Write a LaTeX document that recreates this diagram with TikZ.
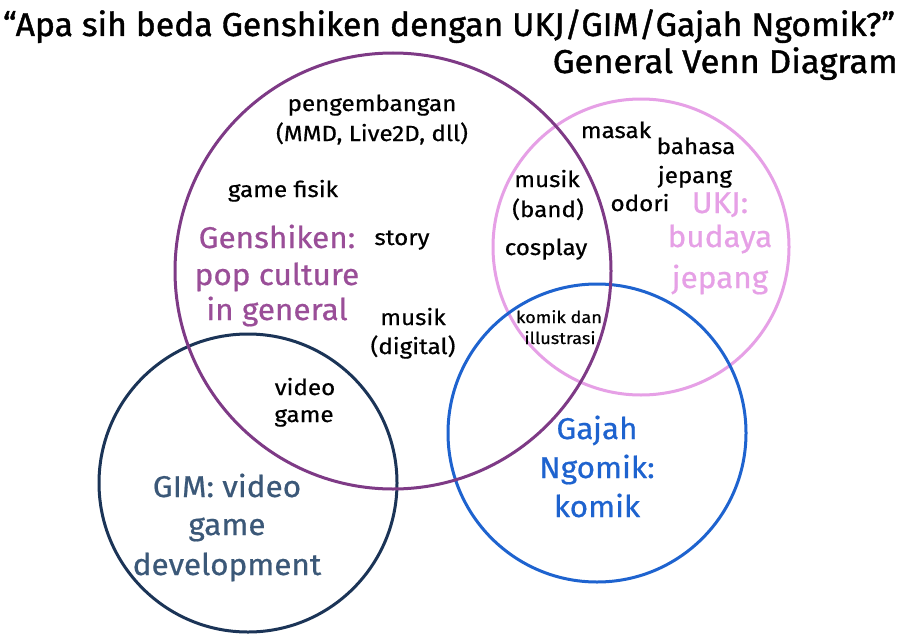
\documentclass[tikz,border=0pt]{standalone}
\usepackage{fontspec}
\setmainfont{Fira Sans}
\newfontfamily\medfont{Fira Sans}[FakeStretch=1.1, FakeBold=0.6]
\newfontfamily\bigfont{Fira Sans}[FakeStretch=1.05, FakeBold=0.6]
\newfontfamily\ttlfont{Fira Sans}[FakeBold=1.2]
\definecolor{gpurple}{HTML}{7E3A86}
\definecolor{gpurpletext}{HTML}{9A4E98}
\definecolor{ukjpink}{HTML}{E6A0E6}
\definecolor{gnblue}{HTML}{1E63CF}
\definecolor{gimnavy}{HTML}{1B3457}
\definecolor{gimtext}{HTML}{3B5878}
\begin{document}
\begin{tikzpicture}[x=1pt,y=-1pt,
  ring/.style={circle, line width=3pt, inner sep=0pt, outer sep=0pt},
  lbl/.style={font=\medfont\fontsize{22}{26}\selectfont, inner sep=0pt, anchor=base},
  sml/.style={font=\medfont\fontsize{16.5}{19}\selectfont, inner sep=0pt, anchor=base},
  big/.style={font=\bigfont\fontsize{30}{36}\selectfont, inner sep=0pt, anchor=base},
  ttl/.style={font=\ttlfont\fontsize{33}{40}\selectfont, inner sep=0pt, anchor=base},
]
\useasboundingbox (0,0) rectangle (901,634);
\fill[white] (0,0) rectangle (901,634);
% circles
\node[ring, draw=ukjpink, minimum size=296pt] (ukj) at (641,247) {};
\node[ring, draw=gnblue, minimum size=298pt] (gajah) at (597,433) {};
\node[ring, draw=gimnavy, minimum size=298pt] (gim) at (248,483) {};
\node[ring, draw=gpurple, minimum size=436pt] (genshiken) at (393,271) {};
% title
\node[ttl] (t1) at (449,36) {\resizebox{892pt}{\height}{“Apa sih beda Genshiken dengan UKJ/GIM/Gajah Ngomik?”}};
\node[ttl, anchor=base east] (t2) at (898,73) {\resizebox{345pt}{\height}{General Venn Diagram}};
% Genshiken labels
\node[big, text=gpurpletext] (g1) at (277,248) {Genshiken:};
\node[big, text=gpurpletext] (g2) at (277,285) {pop culture};
\node[big, text=gpurpletext] (g3) at (277,320) {in general};
\node[lbl] (p1) at (372,111) {pengembangan};
\node[lbl] (p2) at (372,141) {(MMD, Live2D, dll)};
\node[lbl] (gf) at (283,197) {game fisik};
\node[lbl] (st) at (402,245) {story};
\node[lbl] (md1) at (413,325) {musik};
\node[lbl] (md2) at (413,354) {(digital)};
% UKJ labels
\node[big, text=ukjpink] (u1) at (720,213) {UKJ:};
\node[big, text=ukjpink] (u2) at (720,247) {budaya};
\node[big, text=ukjpink] (u3) at (720,288) {jepang};
\node[lbl] (ms) at (616,138) {masak};
\node[lbl] (bh1) at (696,154) {bahasa};
\node[lbl] (bh2) at (695,183) {jepang};
\node[lbl] (od) at (640,211) {odori};
% Genshiken & UKJ
\node[lbl] (mb1) at (547,187) {musik};
\node[lbl] (mb2) at (548,217) {(band)};
\node[lbl] (cp) at (546,255) {cosplay};
% Genshiken & UKJ & Gajah
\node[sml] (kd1) at (559,323) {komik dan};
\node[sml] (kd2) at (560,344) {illustrasi};
% Genshiken & GIM
\node[lbl] (vg1) at (305,395) {video};
\node[lbl] (vg2) at (304,422) {game};
% GIM labels
\node[big, text=gimtext] (m1) at (227,497) {GIM: video};
\node[big, text=gimtext] (m2) at (227,535) {game};
\node[big, text=gimtext] (m3) at (227,575) {development};
% Gajah labels
\node[big, text=gnblue] (j1) at (597,439) {Gajah};
\node[big, text=gnblue] (j2) at (597,478) {Ngomik:};
\node[big, text=gnblue] (j3) at (597,517) {komik};
\end{tikzpicture}
\end{document}
